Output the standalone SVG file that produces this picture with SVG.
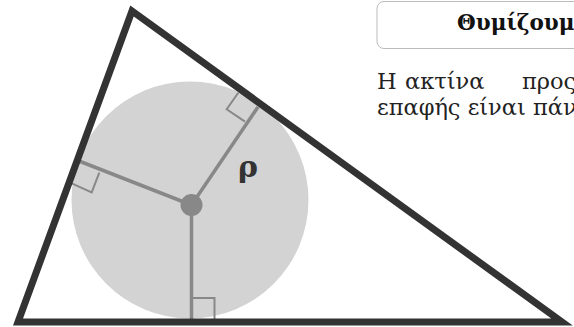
<svg xmlns="http://www.w3.org/2000/svg" width="574" height="327" viewBox="0 0 574 327">
<style>
.tri{fill:none;stroke:#333;stroke-width:7;stroke-linejoin:miter;stroke-miterlimit:10}
.rad{stroke:#888;stroke-width:3.5;fill:none}
.mk{stroke:#888;stroke-width:2;fill:none}
.body{font-family:"DejaVu Serif","Liberation Serif",serif;font-size:22.5px;fill:#222}
</style>
<rect width="574" height="327" fill="#fff"/>
<g id="incircle">
<circle cx="190" cy="200" r="118.5" fill="#d3d3d3"/>
</g>
<g id="radii">
<line class="rad" x1="191.5" y1="205" x2="191.5" y2="319"/>
<line class="rad" x1="191.5" y1="205" x2="258" y2="107"/>
<line class="rad" x1="191.5" y1="205" x2="79" y2="161"/>
<polyline class="mk" points="191.5,298 214.5,298 214.5,319"/>
<polyline class="mk" points="238.3,92.7 226.7,109.3 245,121.7"/>
<polyline class="mk" points="99.3,172.7 91.7,192.3 71.7,183.3"/>
</g>
<g id="center">
<circle cx="191.5" cy="205" r="11" fill="#888"/>
</g>
<g id="triangle">
<polygon class="tri" points="132,11 18,322 562,322"/>
</g>
<g id="label-rho">
<text x="248" y="177" text-anchor="middle" font-family="'DejaVu Serif','Liberation Serif',serif" font-weight="bold" font-size="30" fill="#333">ρ</text>
</g>
<g id="note-title">
<rect x="377" y="1.5" width="230" height="47" rx="7" fill="#fff" stroke="#bbb" stroke-width="1"/>
<text x="457" y="30" font-family="'DejaVu Serif','Liberation Serif',serif" font-weight="bold" font-size="21.5" fill="#111">Θυμίζουμε</text>
</g>
<g id="note-text">
<text class="body" y="89"><tspan x="377">Η</tspan><tspan x="405">ακτίνα</tspan><tspan x="522">προς</tspan></text>
<text class="body" x="377" y="115">επαφής είναι πάντα</text>
</g>
</svg>
